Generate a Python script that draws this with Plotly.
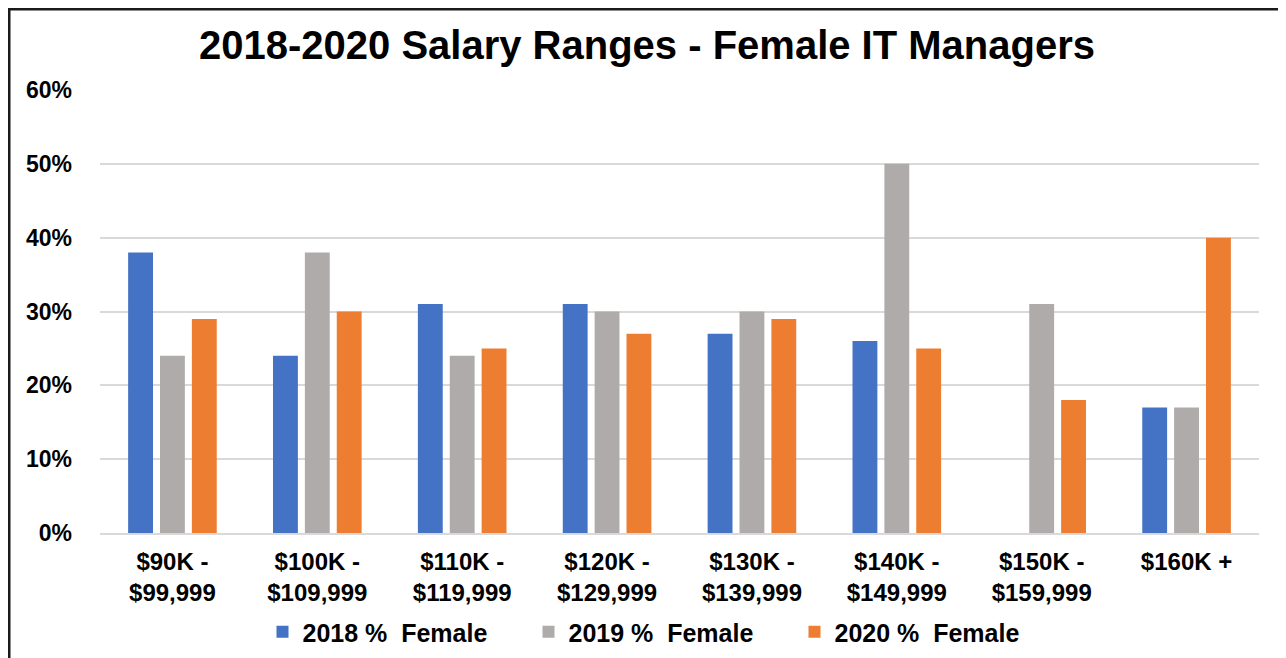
import plotly.graph_objects as go

categories = ["$90K -<br>$99,999", "$100K -<br>$109,999", "$110K -<br>$119,999",
              "$120K -<br>$129,999", "$130K -<br>$139,999", "$140K -<br>$149,999",
              "$150K -<br>$159,999", "$160K +<br> "]
series_names = ["2018 %  Female", "2019 %  Female", "2020 %  Female"]
female_2018 = [0.38, 0.24, 0.31, 0.31, 0.27, 0.26, None, 0.17]
female_2019 = [0.24, 0.38, 0.24, 0.30, 0.30, 0.50, 0.31, 0.17]
female_2020 = [0.29, 0.30, 0.25, 0.27, 0.29, 0.25, 0.18, 0.40]
colors = ["#4472C4", "#AFABAB", "#ED7D31"]
y_ticks = [0, 0.1, 0.2, 0.3, 0.4, 0.5, 0.6]

FONT = "Liberation Sans, Arial, sans-serif"

fig = go.Figure()
for name, vals, col in zip(series_names, [female_2018, female_2019, female_2020], colors):
    fig.add_trace(go.Bar(x=categories, y=vals, name=name, marker_color=col,
                         marker_line_width=0))

# page body adds an 8px offset; figure is sized to fit the window
OFF = 8
W, H = 1286 - OFF, 658 - OFF
ml, mt = 100 - OFF, 90 - OFF
mr = W - (1259 - OFF)
mb = H - (533 - OFF)
pw, ph = W - ml - mr, H - mt - mb

def px_x(x):
    return (x - OFF - ml) / pw

def px_y(y):
    return (H + OFF - mb - y) / ph

fig.update_layout(
    width=W, height=H,
    margin=dict(l=ml, r=mr, t=mt, b=mb, autoexpand=False),
    paper_bgcolor="white", plot_bgcolor="white",
    barmode="group", bargap=0.34, bargroupgap=0.22,
    font=dict(family=FONT, color="black"),
    title=dict(text="<b>2018-2020 Salary Ranges - Female IT Managers</b>",
               x=0.5, xanchor="center", y=1 - (45 - OFF) / H, yanchor="middle",
               font=dict(size=40, family=FONT, color="black")),
    xaxis=dict(showgrid=False, showline=True, linecolor="#D9D9D9", linewidth=2,
               tickfont=dict(size=24, family=FONT, color="black", weight="bold"),
               ticks="", ticklabelstandoff=6, automargin=False),
    yaxis=dict(range=[0, 0.6], tickvals=y_ticks, tickformat=".0%",
               showgrid=True, gridcolor="#D9D9D9", gridwidth=1.5,
               zeroline=False, showline=False, automargin=False,
               tickfont=dict(size=23, family=FONT, color="black", weight="bold"),
               ticklabelstandoff=27),
    legend=dict(orientation="h", x=0.5 - 18 / pw, xanchor="center",
                y=px_y(632), yanchor="middle", entrywidth=221,
                font=dict(size=25, family=FONT, color="black", weight="bold")),
    showlegend=True,
)

fig.add_shape(type="rect", xref="paper", yref="paper",
              x0=px_x(9), x1=px_x(1283), y0=px_y(700), y1=px_y(9),
              line=dict(color="#1a1a1a", width=3), fillcolor="rgba(0,0,0,0)",
              layer="below")

fig.write_html("out.html")
